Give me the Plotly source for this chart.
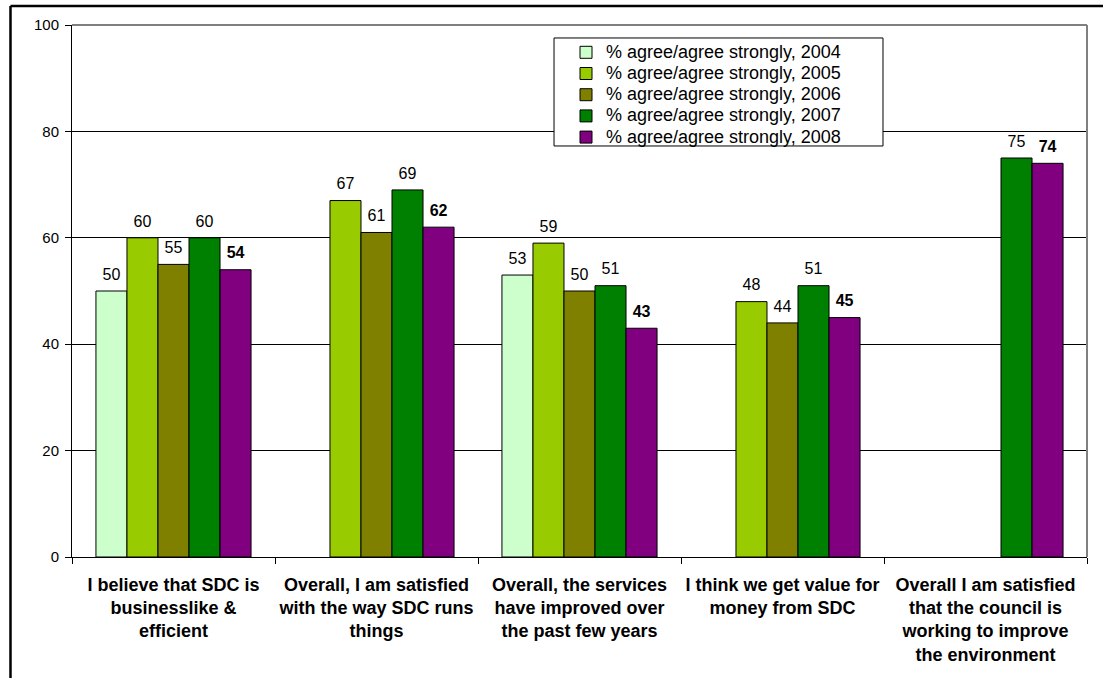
import plotly.graph_objects as go

# Survey statements (category axis)
statements = [
    "I believe that SDC is<br>businesslike &<br>efficient",
    "Overall, I am satisfied<br>with the way SDC runs<br>things",
    "Overall, the services<br>have improved over<br>the past few years",
    "I think we get value for<br>money from SDC",
    "Overall I am satisfied<br>that the council is<br>working to improve<br>the environment",
]

# % agree/agree strongly by survey year (None = question not asked)
years = ["2004", "2005", "2006", "2007", "2008"]
agree_2004 = [50, None, 53, None, None]
agree_2005 = [60, 67, 59, 48, None]
agree_2006 = [55, 61, 50, 44, None]
agree_2007 = [60, 69, 51, 51, 75]
agree_2008 = [54, 62, 43, 45, 74]

series_values = [agree_2004, agree_2005, agree_2006, agree_2007, agree_2008]
series_colors = ["#CCFFCC", "#99CC00", "#808000", "#008000", "#800080"]

y_ticks = [0, 20, 40, 60, 80, 100]

FONT = "Arial, 'Liberation Sans', sans-serif"
GAP = 0.236

fig = go.Figure()

# Bars
for year, vals, color in zip(years, series_values, series_colors):
    fig.add_trace(
        go.Bar(
            name=f'<span style="font-size:18px">% agree/agree strongly, {year}</span>',
            x=statements,
            y=vals,
            marker=dict(color=color, line=dict(color="black", width=1)),
            legendgroup=year,
            hoverinfo="skip",
        )
    )

# Value labels, grouped the same way as the bars so each sits over its bar
for year, vals in zip(years, series_values):
    bold = year == "2008"
    labels = [
        "" if v is None else (f"<b>{v}</b>" if bold else str(v)) for v in vals
    ]
    fig.add_trace(
        go.Scatter(
            x=statements,
            y=vals,
            mode="markers+text",
            marker=dict(size=10, opacity=0),
            text=labels,
            textposition="top center",
            textfont=dict(family=FONT, size=16, color="black"),
            cliponaxis=False,
            showlegend=False,
            legendgroup=year,
            hoverinfo="skip",
        )
    )

fig.update_layout(
    width=1103,
    height=678,
    margin=dict(l=72, r=16, t=25, b=121),
    paper_bgcolor="white",
    plot_bgcolor="white",
    barmode="group",
    bargap=GAP,
    bargroupgap=0,
    scattermode="group",
    scattergap=GAP,
    font=dict(family=FONT, color="black"),
    showlegend=True,
    legend=dict(
        x=0.4867,
        y=0.978,
        xanchor="left",
        yanchor="top",
        bgcolor="rgba(0,0,0,0)",
        borderwidth=0,
        font=dict(family=FONT, size=14, color="black"),
        tracegroupgap=0,
        itemwidth=30,
    ),
)

fig.update_yaxes(
    range=[0, 100],
    tickvals=y_ticks,
    ticks="outside",
    ticklen=6,
    tickcolor="black",
    showgrid=True,
    gridcolor="black",
    gridwidth=1,
    showline=True,
    linecolor="black",
    linewidth=1,
    zeroline=False,
    ticklabelstandoff=3,
    tickfont=dict(family=FONT, size=15, color="black"),
    fixedrange=True,
)

fig.update_xaxes(
    tickson="boundaries",
    ticks="outside",
    ticklen=6,
    tickcolor="black",
    showline=True,
    linecolor="black",
    linewidth=1,
    showgrid=False,
    tickangle=0,
    ticklabelstandoff=11,
    tickfont=dict(family=FONT, size=18, color="black", weight="bold"),
    fixedrange=True,
)

# Legend box, plot-area top/right border and the outer figure frame
shapes = [
    dict(type="rect", xref="paper", yref="paper",
         x0=0.4749, x1=0.7990, y0=0.7726, y1=0.9756,
         line=dict(color="black", width=1), fillcolor="white", layer="above"),
    dict(type="line", xref="paper", yref="paper", x0=0, x1=1, y0=1, y1=1,
         line=dict(color="#808080", width=2)),
    dict(type="line", xref="paper", yref="paper", x0=1, x1=1, y0=0, y1=1,
         line=dict(color="#808080", width=2)),
    dict(type="line", xref="paper", yref="paper", x0=-0.0606, x1=-0.0606,
         y0=-0.4, y1=1.0357, line=dict(color="black", width=2.5)),
    dict(type="line", xref="paper", yref="paper", x0=-0.0606, x1=1.1,
         y0=1.0357, y1=1.0357, line=dict(color="black", width=2.5)),
]
fig.update_layout(shapes=shapes)

fig.write_html("out.html")
